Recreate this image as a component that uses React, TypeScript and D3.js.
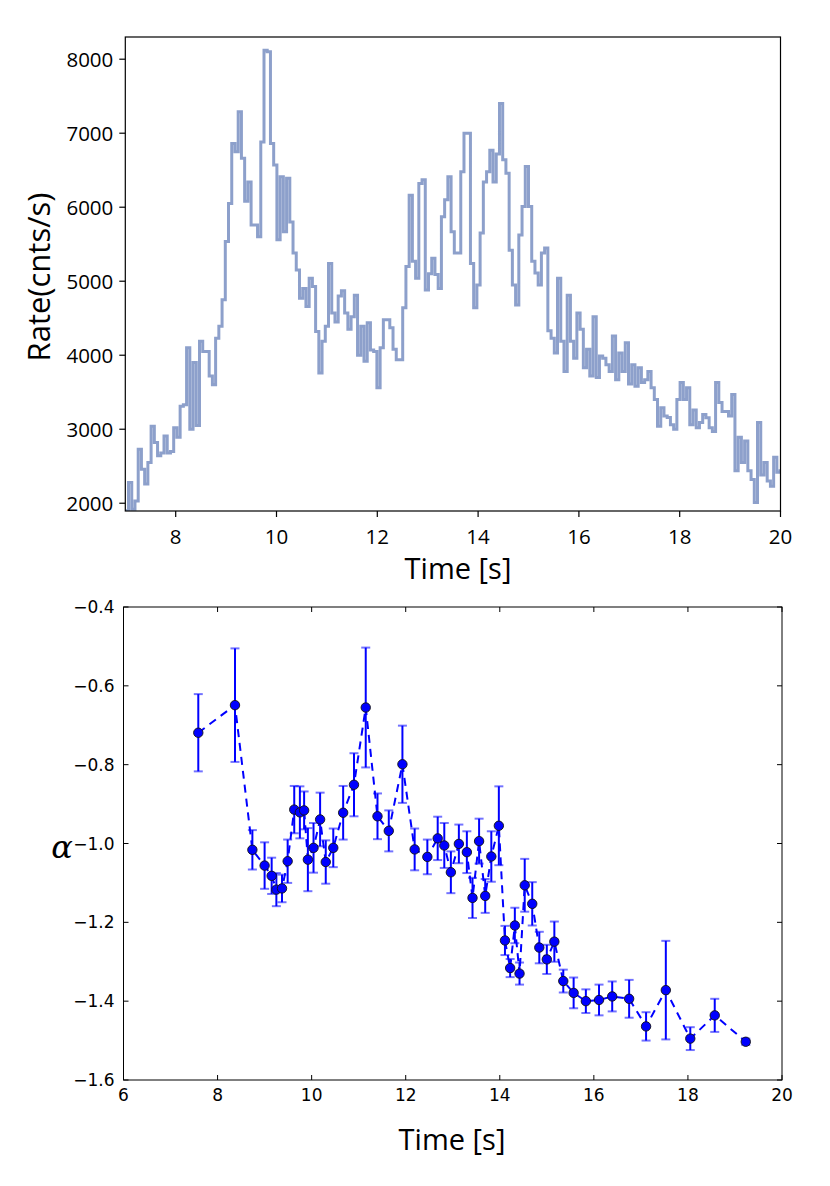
import * as d3 from "d3";

// light curve: rate per bin, bins of 0.064 s starting at t = 7.0 s
const rateStart = 7.0;
const rateBinWidth = 0.064;
const rateValues = [
  1900, 2280, 1920, 2030, 2730, 2460, 2260, 2550, 3040, 2820,
  2640, 2680, 2910, 2680, 2700, 3020, 2890, 3310, 3330, 4100,
  3000, 3900, 3050, 4190, 4050, 4050, 3720, 3600, 4230, 4390,
  4750, 5535, 6050, 6860, 6750, 7290, 6660, 6080, 6340, 5760,
  5760, 5600, 6880, 8120, 8100, 6860, 6570, 5560, 6410, 5670,
  6390, 5800, 5380, 5150, 4770, 4900, 4660, 5040, 4930, 4320,
  3760, 4190, 4390, 5240, 4570, 4450, 4800, 4870, 4570, 4350,
  4520, 4810, 4000, 4390, 3920, 4440, 4070, 4050, 3560, 4100,
  4480, 4480, 4370, 4080, 3940, 3940, 4640, 5200, 6160, 5270,
  5040, 6320, 6370, 4880, 5100, 5310, 5090, 4900, 5870, 6100,
  6410, 5670, 5380, 5380, 6480, 7000, 7000, 5240, 4640, 4950,
  5650, 6340, 6480, 6770, 6340, 6720, 7400, 6640, 6460, 5420,
  4950, 4680, 5625, 6010, 6550, 6010, 5270, 5110, 4950, 5380,
  5450, 4330, 4230, 4030, 5040, 4190, 3780, 4810, 4190, 3960,
  4570, 4350, 3830, 4080, 3720, 4520, 3700, 3990, 3960, 3870,
  3780, 4260, 3670, 4030, 3780, 4170, 3610, 3870, 3580, 3830,
  3630, 3670, 3780, 3560, 3400, 3040, 3290, 3180, 3160, 3060,
  3000, 3400, 3630, 3400, 3560, 3060, 3260, 3020, 3090, 3200,
  3155, 3020, 2970, 3630, 3360, 3240, 3240, 3180, 3470, 2440,
  2890, 2550, 2840, 2440, 2320, 2010, 3090, 2380, 2550, 2300,
  2230, 2620, 2420, 2440,
];
const rateTicks = [2000, 3000, 4000, 5000, 6000, 7000, 8000];
const timeTicksTop = [8, 10, 12, 14, 16, 18, 20];

// spectral index alpha over time
const alphaTimes = [
  7.59, 8.37, 8.74, 9.0, 9.15, 9.25, 9.37, 9.49, 9.63, 9.75,
  9.84, 9.92, 10.04, 10.18, 10.3, 10.46, 10.67, 10.9, 11.15, 11.4,
  11.64, 11.93, 12.19, 12.46, 12.68, 12.82, 12.96, 13.13, 13.3, 13.42,
  13.56, 13.69, 13.82, 13.98, 14.11, 14.22, 14.32, 14.42, 14.53, 14.69,
  14.84, 15.0, 15.16, 15.35, 15.57, 15.83, 16.11, 16.39, 16.75, 17.11,
  17.53, 18.05, 18.57, 19.23,
];
const alphaValues = [
  -0.719, -0.649, -1.016, -1.056, -1.082, -1.117, -1.114, -1.045, -0.914, -0.921,
  -0.916, -1.041, -1.011, -0.939, -1.047, -1.011, -0.922, -0.851, -0.655, -0.931,
  -0.968, -0.799, -1.015, -1.034, -0.987, -1.005, -1.073, -1.001, -1.022, -1.138,
  -0.994, -1.133, -1.033, -0.955, -1.246, -1.316, -1.208, -1.33, -1.106, -1.153,
  -1.264, -1.294, -1.249, -1.349, -1.379, -1.4, -1.397, -1.388, -1.394, -1.464,
  -1.372, -1.495, -1.436, -1.503,
];
const alphaErrors = [
  0.098, 0.144, 0.05, 0.059, 0.046, 0.042, 0.035, 0.055, 0.06, 0.066,
  0.048, 0.08, 0.063, 0.068, 0.055, 0.049, 0.068, 0.08, 0.152, 0.058,
  0.052, 0.098, 0.053, 0.044, 0.055, 0.057, 0.053, 0.049, 0.053, 0.051,
  0.057, 0.043, 0.064, 0.1, 0.037, 0.023, 0.045, 0.028, 0.067, 0.055,
  0.04, 0.037, 0.051, 0.029, 0.039, 0.03, 0.039, 0.038, 0.048, 0.036,
  0.125, 0.029, 0.042, 0.008,
];
const alphaTicks = [-1.6, -1.4, -1.2, -1.0, -0.8, -0.6, -0.4];
const timeTicksBottom = [6, 8, 10, 12, 14, 16, 18, 20];

const labelFont = "'Open Sans', sans-serif";
const tickFontBottom = "'DejaVu Sans', sans-serif";

function fmtAlpha(v: number) {
  return v.toFixed(1).replace("-", "\u2212");
}

export default function App() {
  // ---- top panel
  const top = { left: 125.3, right: 780.5, top: 37, bottom: 511 };
  const xT = d3.scaleLinear().domain([7, 20]).range([top.left, top.right]);
  const yT = d3.scaleLinear().domain([1895, 8300]).range([top.bottom, top.top]);

  const steps = rateValues.map((v, i) => ({ t: rateStart + i * rateBinWidth, v }));
  steps.push({ t: rateStart + rateValues.length * rateBinWidth, v: rateValues[rateValues.length - 1] });
  const stepLine = d3
    .line<{ t: number; v: number }>()
    .x((d) => xT(d.t))
    .y((d) => yT(d.v))
    .curve(d3.curveStepAfter);

  // ---- bottom panel
  const bot = { left: 123.5, right: 782, top: 607, bottom: 1080 };
  const xB = d3.scaleLinear().domain([6, 20]).range([bot.left, bot.right]);
  const yB = d3.scaleLinear().domain([-1.6, -0.4]).range([bot.bottom, bot.top]);
  const pts = alphaTimes.map((t, i) => ({ t, a: alphaValues[i], e: alphaErrors[i] }));
  const dashLine = d3
    .line<{ t: number; a: number }>()
    .x((d) => xB(d.t))
    .y((d) => yB(d.a));

  const tickLen = 5;

  return (
    <svg
      width={830}
      height={1186}
      style={{ position: "absolute", left: 0, top: 0, background: "#fff" }}
    >
      <defs>
        <clipPath id="clipTop">
          <rect x={top.left} y={top.top} width={top.right - top.left} height={top.bottom - top.top} />
        </clipPath>
      </defs>

      {/* top panel */}
      <path
        d={stepLine(steps) || ""}
        fill="none"
        stroke="#8da0cb"
        strokeWidth={3}
        clipPath="url(#clipTop)"
      />
      <rect
        x={top.left}
        y={top.top}
        width={top.right - top.left}
        height={top.bottom - top.top}
        fill="none"
        stroke="#000"
        strokeWidth={1.2}
      />
      {rateTicks.map((v) => (
        <g key={"ry" + v}>
          <line x1={top.left - 6} x2={top.left} y1={yT(v)} y2={yT(v)} stroke="#000" strokeWidth={1.2} />
          <text
            x={top.left - 12}
            y={yT(v)}
            dy="0.36em"
            textAnchor="end"
            fontFamily={labelFont}
            fontSize={20.5}
          >
            {v}
          </text>
        </g>
      ))}
      {timeTicksTop.map((t) => (
        <g key={"tx" + t}>
          <line x1={xT(t)} x2={xT(t)} y1={top.bottom} y2={top.bottom + 6} stroke="#000" strokeWidth={1.2} />
          <text x={xT(t)} y={top.bottom + 33} textAnchor="middle" fontFamily={labelFont} fontSize={20.5}>
            {t}
          </text>
        </g>
      ))}
      <text x={458} y={579} textAnchor="middle" fontFamily={labelFont} fontSize={29}>
        Time [s]
      </text>
      <text
        transform="translate(50,277) rotate(-90)"
        textAnchor="middle"
        fontFamily={labelFont}
        fontSize={31}
      >
        Rate(cnts/s)
      </text>

      {/* bottom panel */}
      <path
        d={dashLine(pts) || ""}
        fill="none"
        stroke="#0000ff"
        strokeWidth={2}
        strokeDasharray="8,6"
      />
      {pts.map((p, i) => (
        <g key={"eb" + i}>
          <line
            x1={xB(p.t)}
            x2={xB(p.t)}
            y1={yB(p.a - p.e)}
            y2={yB(p.a + p.e)}
            stroke="#0000ff"
            strokeWidth={2}
          />
          <line
            x1={xB(p.t) - 4.5}
            x2={xB(p.t) + 4.5}
            y1={yB(p.a - p.e)}
            y2={yB(p.a - p.e)}
            stroke="#0000ff"
            strokeOpacity={0.55}
            strokeWidth={2}
          />
          <line
            x1={xB(p.t) - 4.5}
            x2={xB(p.t) + 4.5}
            y1={yB(p.a + p.e)}
            y2={yB(p.a + p.e)}
            stroke="#0000ff"
            strokeOpacity={0.55}
            strokeWidth={2}
          />
        </g>
      ))}
      {pts.map((p, i) => (
        <circle key={"pt" + i} cx={xB(p.t)} cy={yB(p.a)} r={4.7} fill="#0000ff" stroke="#111" strokeWidth={0.9} />
      ))}
      <rect
        x={bot.left}
        y={bot.top}
        width={bot.right - bot.left}
        height={bot.bottom - bot.top}
        fill="none"
        stroke="#000"
        strokeWidth={1}
      />
      {alphaTicks.map((v) => (
        <g key={"ay" + v}>
          <line x1={bot.left} x2={bot.left + tickLen} y1={yB(v)} y2={yB(v)} stroke="#000" />
          <line x1={bot.right - tickLen} x2={bot.right} y1={yB(v)} y2={yB(v)} stroke="#000" />
          <text
            x={bot.left - 9}
            y={yB(v)}
            dy="0.36em"
            textAnchor="end"
            fontFamily={tickFontBottom}
            fontSize={17}
          >
            {fmtAlpha(v)}
          </text>
        </g>
      ))}
      {timeTicksBottom.map((t) => (
        <g key={"bx" + t}>
          <line x1={xB(t)} x2={xB(t)} y1={bot.bottom} y2={bot.bottom - tickLen} stroke="#000" />
          <line x1={xB(t)} x2={xB(t)} y1={bot.top} y2={bot.top + tickLen} stroke="#000" />
          <text x={xB(t)} y={bot.bottom + 21} textAnchor="middle" fontFamily={tickFontBottom} fontSize={17}>
            {t}
          </text>
        </g>
      ))}
      <text x={452} y={1150} textAnchor="middle" fontFamily={labelFont} fontSize={29}>
        Time [s]
      </text>
      <text x={62} y={858} textAnchor="middle" fontFamily="'DejaVu Serif', serif" fontStyle="italic" fontSize={32}>
        α
      </text>
    </svg>
  );
}
